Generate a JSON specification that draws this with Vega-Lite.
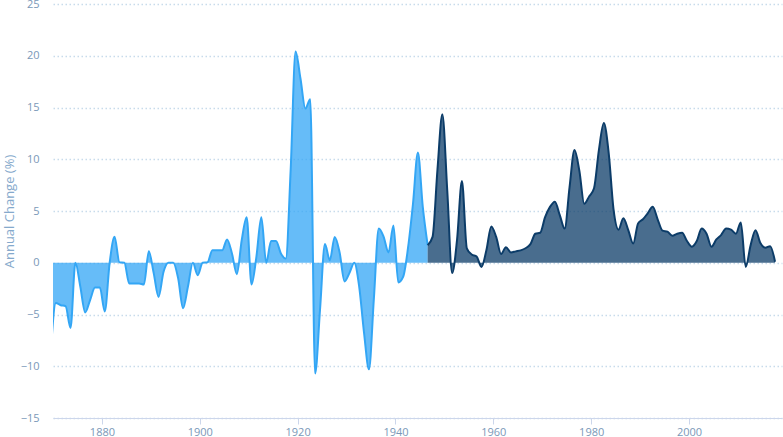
{
  "$schema": "https://vega.github.io/schema/vega-lite/v6.json",
  "autosize": {"type": "none"},
  "width": 729,
  "height": 414,
  "padding": {"left": 53, "top": 4, "right": 1, "bottom": 19},
  "background": "white",
  "config": {"view": {"stroke": null}, "font": "Open Sans"},
  "data": {"values": [
    {"date":"1869-08-01","change":-8.3},
    {"date":"1870-08-01","change":-3.9},
    {"date":"1871-08-01","change":-4.1},
    {"date":"1872-08-01","change":-4.2},
    {"date":"1873-08-01","change":-6.3},
    {"date":"1874-08-01","change":0},
    {"date":"1875-08-01","change":-2.3},
    {"date":"1876-08-01","change":-4.8},
    {"date":"1877-08-01","change":-3.6},
    {"date":"1878-08-01","change":-2.4},
    {"date":"1879-08-01","change":-2.4},
    {"date":"1880-08-01","change":-4.7},
    {"date":"1881-08-01","change":0},
    {"date":"1882-08-01","change":2.5},
    {"date":"1883-08-01","change":0.05},
    {"date":"1884-08-01","change":0},
    {"date":"1885-08-01","change":-2.0},
    {"date":"1886-08-01","change":-2.0},
    {"date":"1887-08-01","change":-2.0},
    {"date":"1888-08-01","change":-2.1},
    {"date":"1889-08-01","change":1.1},
    {"date":"1890-08-01","change":-1.0},
    {"date":"1891-08-01","change":-3.3},
    {"date":"1892-08-01","change":-0.9},
    {"date":"1893-08-01","change":0},
    {"date":"1894-08-01","change":0},
    {"date":"1895-08-01","change":-1.5},
    {"date":"1896-08-01","change":-4.4},
    {"date":"1897-08-01","change":-2.3},
    {"date":"1898-08-01","change":0},
    {"date":"1899-08-01","change":-1.2},
    {"date":"1900-08-01","change":0},
    {"date":"1901-08-01","change":0.05},
    {"date":"1902-08-01","change":1.2},
    {"date":"1903-08-01","change":1.2},
    {"date":"1904-08-01","change":1.2},
    {"date":"1905-08-01","change":2.25},
    {"date":"1906-08-01","change":0.9},
    {"date":"1907-08-01","change":-1.1},
    {"date":"1908-08-01","change":2.2},
    {"date":"1909-08-01","change":4.4},
    {"date":"1910-08-01","change":-2.1},
    {"date":"1911-08-01","change":0.6},
    {"date":"1912-08-01","change":4.4},
    {"date":"1913-08-01","change":0},
    {"date":"1914-08-01","change":2.1},
    {"date":"1915-08-01","change":2.1},
    {"date":"1916-08-01","change":0.9},
    {"date":"1917-08-01","change":0.4},
    {"date":"1918-08-01","change":9.0},
    {"date":"1919-08-01","change":20.4},
    {"date":"1920-08-01","change":17.8},
    {"date":"1921-08-01","change":14.9},
    {"date":"1922-08-01","change":15.8},
    {"date":"1923-08-01","change":-10.7},
    {"date":"1924-08-01","change":-4.5},
    {"date":"1925-08-01","change":1.8},
    {"date":"1926-08-01","change":0.25},
    {"date":"1927-08-01","change":2.5},
    {"date":"1928-08-01","change":1.0},
    {"date":"1929-08-01","change":-1.8},
    {"date":"1930-08-01","change":-1.0},
    {"date":"1931-08-01","change":0},
    {"date":"1932-08-01","change":-2.3},
    {"date":"1933-08-01","change":-6.8},
    {"date":"1934-08-01","change":-10.3},
    {"date":"1935-08-01","change":-3.5},
    {"date":"1936-08-01","change":3.3},
    {"date":"1937-08-01","change":2.5},
    {"date":"1938-08-01","change":1.0},
    {"date":"1939-08-01","change":3.6},
    {"date":"1940-08-01","change":-1.9},
    {"date":"1941-08-01","change":-1.35},
    {"date":"1942-08-01","change":1.5},
    {"date":"1943-08-01","change":5.7},
    {"date":"1944-08-01","change":10.65},
    {"date":"1945-08-01","change":5.4},
    {"date":"1946-08-01","change":1.7},
    {"date":"1947-08-01","change":2.5},
    {"date":"1948-08-01","change":9.0},
    {"date":"1949-08-01","change":14.35},
    {"date":"1950-08-01","change":7.0},
    {"date":"1951-08-01","change":-1.0},
    {"date":"1952-08-01","change":2.2},
    {"date":"1953-08-01","change":7.9},
    {"date":"1954-08-01","change":1.4},
    {"date":"1955-08-01","change":0.8},
    {"date":"1956-08-01","change":0.6},
    {"date":"1957-08-01","change":-0.4},
    {"date":"1958-08-01","change":1.2},
    {"date":"1959-08-01","change":3.5},
    {"date":"1960-08-01","change":2.5},
    {"date":"1961-08-01","change":0.85},
    {"date":"1962-08-01","change":1.5},
    {"date":"1963-08-01","change":1.0},
    {"date":"1964-08-01","change":1.1},
    {"date":"1965-08-01","change":1.2},
    {"date":"1966-08-01","change":1.4},
    {"date":"1967-08-01","change":1.8},
    {"date":"1968-08-01","change":2.8},
    {"date":"1969-08-01","change":2.9},
    {"date":"1970-08-01","change":4.4},
    {"date":"1971-08-01","change":5.4},
    {"date":"1972-08-01","change":5.9},
    {"date":"1973-08-01","change":4.6},
    {"date":"1974-08-01","change":3.3},
    {"date":"1975-08-01","change":7.3},
    {"date":"1976-08-01","change":10.9},
    {"date":"1977-08-01","change":8.9},
    {"date":"1978-08-01","change":5.7},
    {"date":"1979-08-01","change":6.4},
    {"date":"1980-08-01","change":7.2},
    {"date":"1981-08-01","change":10.9},
    {"date":"1982-08-01","change":13.5},
    {"date":"1983-08-01","change":10.6},
    {"date":"1984-08-01","change":5.1},
    {"date":"1985-08-01","change":3.2},
    {"date":"1986-08-01","change":4.3},
    {"date":"1987-08-01","change":3.15},
    {"date":"1988-08-01","change":1.85},
    {"date":"1989-08-01","change":3.8},
    {"date":"1990-08-01","change":4.2},
    {"date":"1991-08-01","change":4.8},
    {"date":"1992-08-01","change":5.4},
    {"date":"1993-08-01","change":4.2},
    {"date":"1994-08-01","change":3.1},
    {"date":"1995-08-01","change":3.0},
    {"date":"1996-08-01","change":2.6},
    {"date":"1997-08-01","change":2.8},
    {"date":"1998-08-01","change":2.9},
    {"date":"1999-08-01","change":2.1},
    {"date":"2000-08-01","change":1.55},
    {"date":"2001-08-01","change":2.1},
    {"date":"2002-08-01","change":3.3},
    {"date":"2003-08-01","change":2.8},
    {"date":"2004-08-01","change":1.55},
    {"date":"2005-08-01","change":2.25},
    {"date":"2006-08-01","change":2.7},
    {"date":"2007-08-01","change":3.3},
    {"date":"2008-08-01","change":3.2},
    {"date":"2009-08-01","change":2.8},
    {"date":"2010-08-01","change":3.9},
    {"date":"2011-08-01","change":-0.4},
    {"date":"2012-08-01","change":1.7},
    {"date":"2013-08-01","change":3.15},
    {"date":"2014-08-01","change":1.9},
    {"date":"2015-08-01","change":1.45},
    {"date":"2016-08-01","change":1.6},
    {"date":"2017-08-01","change":0.1}
  ]},
  "encoding": {
    "x": {
      "field": "date",
      "type": "temporal",
      "scale": {
        "type": "utc",
        "domain": [
          {"year": 1870, "month": 1, "date": 1, "utc": true},
          {"year": 2019, "month": 1, "date": 1, "utc": true}
        ]
      },
      "axis": {
        "title": null,
        "grid": false,
        "values": [
          {"year": 1880, "month": 1, "date": 1, "utc": true},
          {"year": 1900, "month": 1, "date": 1, "utc": true},
          {"year": 1920, "month": 1, "date": 1, "utc": true},
          {"year": 1940, "month": 1, "date": 1, "utc": true},
          {"year": 1960, "month": 1, "date": 1, "utc": true},
          {"year": 1980, "month": 1, "date": 1, "utc": true},
          {"year": 2000, "month": 1, "date": 1, "utc": true}
        ],
        "format": "%Y",
        "formatType": "utc",
        "domainColor": "#ccd6eb",
        "domainWidth": 1,
        "tickColor": "#ccd6eb",
        "tickSize": 6,
        "tickWidth": 1,
        "labelColor": "#7a98b8",
        "labelFontSize": 11,
        "labelPadding": 2,
        "labelFont": "Open Sans"
      }
    },
    "y": {
      "field": "change",
      "type": "quantitative",
      "scale": {"domain": [-15, 25], "nice": false},
      "axis": {
        "title": "Annual Change (%)",
        "titleColor": "#85a9cc",
        "titleFontSize": 13,
        "titleFontWeight": "normal",
        "titleFont": "Open Sans",
        "titlePadding": 4,
        "values": [-15, -10, -5, 0, 5, 10, 15, 20, 25],
        "domain": false,
        "ticks": false,
        "grid": true,
        "gridColor": "#c8dbeb",
        "gridDash": [1.5, 2.5],
        "gridWidth": 1.5,
        "labelColor": "#7a98b8",
        "labelFontSize": 11,
        "labelPadding": 14,
        "labelFont": "Open Sans"
      }
    }
  },
  "layer": [
    {
      "transform": [{"filter": "utcyear(datum.date) <= 1946"}],
      "mark": {"type": "area", "interpolate": "monotone", "color": "#33a6f5", "opacity": 0.75, "clip": true}
    },
    {
      "transform": [{"filter": "utcyear(datum.date) >= 1946"}],
      "mark": {"type": "area", "interpolate": "monotone", "color": "#0c3c68", "opacity": 0.75, "clip": true}
    },
    {
      "transform": [{"filter": "utcyear(datum.date) <= 1946"}],
      "mark": {"type": "line", "interpolate": "monotone", "color": "#33a6f5", "strokeWidth": 2, "clip": true}
    },
    {
      "transform": [{"filter": "utcyear(datum.date) >= 1946"}],
      "mark": {"type": "line", "interpolate": "monotone", "color": "#0c3c68", "strokeWidth": 2, "clip": true}
    }
  ]
}
